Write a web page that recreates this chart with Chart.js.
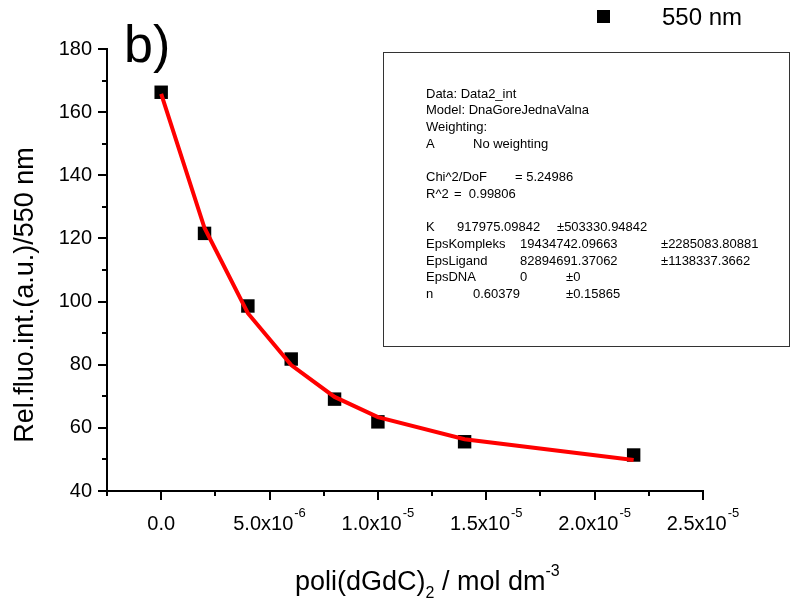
<!DOCTYPE html>
<html lang="en">
<head>
    <meta charset="UTF-8">
    <title>Rel.fluo.int. vs poli(dGdC)2</title>
    <script src="https://cdn.jsdelivr.net/npm/chart.js"></script>
    <style>
        body {
            margin: 0;
            background: #fff;
        }
        #wrap {
            position: relative;
            width: 791px;
            height: 600px;
        }
    </style>
</head>
<body>
    <div id="wrap">
        <canvas id="grafico" width="791" height="600"></canvas>
    </div>

    <script>
        // data
        const concentrations = [0, 2e-6, 4e-6, 6e-6, 8e-6, 1e-5, 1.4e-5, 2.18e-5];
        const intensity = [166.3, 121.6, 98.6, 81.8, 69.1, 61.9, 55.6, 51.4];
        const fitIntensity = [165.8, 123.3, 96.3, 79.9, 69.8, 63.4, 56.4, 49.8];

        const yMajorTicks = [40, 60, 80, 100, 120, 140, 160, 180];
        const yMinorTicks = [50, 70, 90, 110, 130, 150, 170];
        const xMajorTicks = [0, 5e-6, 1e-5, 1.5e-5, 2e-5, 2.5e-5];
        const xMinorTicks = [-2.5e-6, 2.5e-6, 7.5e-6, 1.25e-5, 1.75e-5, 2.25e-5];
        const xTickMantissa = ['0.0', '5.0x10', '1.0x10', '1.5x10', '2.0x10', '2.5x10'];
        const xTickExponent = ['', '-6', '-5', '-5', '-5', '-5'];

        const seriesLabel = '550 nm';
        const fitReport = [
            ['Data: Data2_int'],
            ['Model: DnaGoreJednaValna'],
            ['Weighting:'],
            ['A', 'No weighting'],
            [],
            ['Chi^2/DoF', '= 5.24986'],
            ['R^2', '=  0.99806'],
            [],
            ['K', '917975.09842', '±503330.94842'],
            ['EpsKompleks', '19434742.09663', '±2285083.80881'],
            ['EpsLigand', '82894691.37062', '±1138337.3662'],
            ['EpsDNA', '0', '±0'],
            ['n', '0.60379', '±0.15865']
        ];

        const FONT = 'Arial, "Liberation Sans", sans-serif';

        // Origin-like axes: outward ticks, minor ticks, superscript labels, text box
        const originDecor = {
            id: 'originDecor',
            afterDraw(chart) {
                const ctx = chart.ctx;
                const x = chart.scales.x, y = chart.scales.y;
                const area = chart.chartArea;
                ctx.save();
                ctx.strokeStyle = '#000';
                ctx.fillStyle = '#000';
                ctx.lineWidth = 2;

                // y ticks
                ctx.beginPath();
                yMajorTicks.forEach(v => {
                    const py = Math.round(y.getPixelForValue(v));
                    ctx.moveTo(area.left - 9, py);
                    ctx.lineTo(area.left, py);
                });
                yMinorTicks.forEach(v => {
                    const py = Math.round(y.getPixelForValue(v));
                    ctx.moveTo(area.left - 5, py);
                    ctx.lineTo(area.left, py);
                });
                // x ticks
                xMajorTicks.forEach(v => {
                    const px = Math.round(x.getPixelForValue(v));
                    ctx.moveTo(px, area.bottom);
                    ctx.lineTo(px, area.bottom + 9);
                });
                xMinorTicks.forEach(v => {
                    const px = Math.round(x.getPixelForValue(v));
                    ctx.moveTo(px, area.bottom);
                    ctx.lineTo(px, area.bottom + 5);
                });
                ctx.stroke();

                // y tick labels
                ctx.font = '20px ' + FONT;
                ctx.textAlign = 'right';
                ctx.textBaseline = 'middle';
                yMajorTicks.forEach(v => {
                    ctx.fillText(String(v), area.left - 15, y.getPixelForValue(v));
                });

                // x tick labels with exponent
                ctx.textAlign = 'left';
                ctx.textBaseline = 'alphabetic';
                xMajorTicks.forEach((v, i) => {
                    ctx.font = '20px ' + FONT;
                    const wm = ctx.measureText(xTickMantissa[i]).width;
                    ctx.font = '13px ' + FONT;
                    const we = xTickExponent[i] ? ctx.measureText(xTickExponent[i]).width + 1 : 0;
                    const x0 = x.getPixelForValue(v) - (wm + we) / 2;
                    ctx.font = '20px ' + FONT;
                    ctx.fillText(xTickMantissa[i], x0, 530);
                    if (xTickExponent[i]) {
                        ctx.font = '13px ' + FONT;
                        ctx.fillText(xTickExponent[i], x0 + wm + 1, 517);
                    }
                });

                // y title
                ctx.save();
                ctx.translate(33, 295);
                ctx.rotate(-Math.PI / 2);
                ctx.font = '27px ' + FONT;
                ctx.textAlign = 'center';
                ctx.fillText('Rel.fluo.int.(a.u.)/550 nm', 0, 0);
                ctx.restore();

                // x title with sub/superscript
                let tx = 295;
                const part = (t, size, base) => {
                    ctx.font = size + 'px ' + FONT;
                    ctx.fillText(t, tx, base);
                    tx += ctx.measureText(t).width;
                };
                part('poli(dGdC)', 27, 590);
                part('2', 16, 598);
                part(' / mol dm', 27, 590);
                part('-3', 16, 576);

                // panel letter
                ctx.font = '52px ' + FONT;
                ctx.fillText('b)', 124, 62);

                // legend
                ctx.fillRect(597, 10, 13, 13);
                ctx.font = '24px ' + FONT;
                ctx.fillText(seriesLabel, 662, 25);

                // fit report box
                ctx.lineWidth = 1;
                ctx.strokeStyle = '#333';
                ctx.strokeRect(383.5, 52.5, 406, 294);
                const cols = [[426], [426], [426], [426, 473], [], [426, 515], [426, 454], [],
                    [426, 457, 557], [426, 520, 661], [426, 520, 661], [426, 520, 566], [426, 473, 566]];
                ctx.font = '13px ' + FONT;
                fitReport.forEach((row, r) => {
                    row.forEach((t, c) => ctx.fillText(t, cols[r][c], 97.5 + r * 16.7));
                });

                ctx.restore();
            }
        };

        const ctx = document.getElementById('grafico').getContext('2d');
        new Chart(ctx, {
            type: 'scatter',
            data: {
                datasets: [{
                    label: 'fit',
                    data: concentrations.map((c, i) => ({ x: c, y: fitIntensity[i] })),
                    showLine: true,
                    borderColor: '#ff0000',
                    borderWidth: 4,
                    pointRadius: 0,
                    tension: 0
                }, {
                    label: seriesLabel,
                    data: concentrations.map((c, i) => ({ x: c, y: intensity[i] })),
                    pointStyle: 'rect',
                    pointRadius: 9.5,
                    borderWidth: 0,
                    backgroundColor: '#000',
                    borderColor: '#000'
                }]
            },
            options: {
                responsive: false,
                animation: false,
                layout: { padding: { left: 107, top: 49, right: 88, bottom: 109 } },
                plugins: {
                    legend: { display: false },
                    tooltip: { enabled: false }
                },
                scales: {
                    x: {
                        type: 'linear',
                        min: -2.5e-6,
                        max: 2.5e-5,
                        ticks: { display: false },
                        grid: { display: false, drawTicks: false },
                        border: { display: true, color: '#000', width: 2 }
                    },
                    y: {
                        min: 40,
                        max: 180,
                        ticks: { display: false },
                        grid: { display: false, drawTicks: false },
                        border: { display: true, color: '#000', width: 2 }
                    }
                }
            },
            plugins: [originDecor]
        });
    </script>
</body>
</html>
